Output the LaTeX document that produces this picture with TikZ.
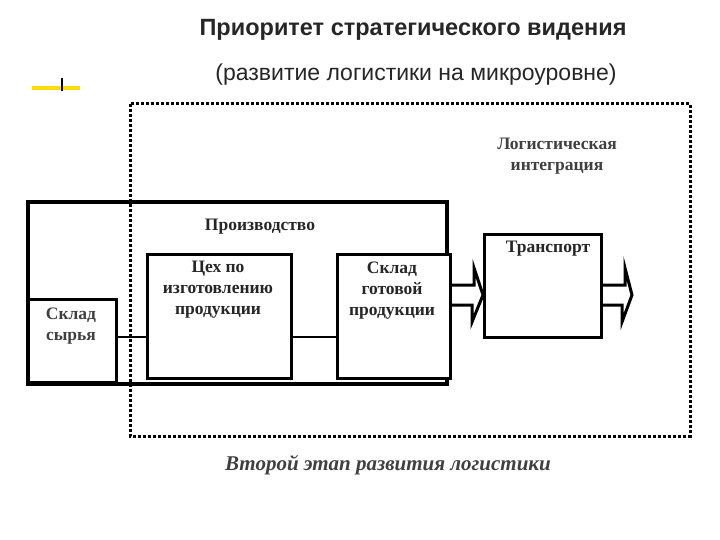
\documentclass[tikz,border=0pt]{standalone}
\usepackage{fontspec}
\setmainfont{Liberation Serif}
\newfontfamily\titlefont{Liberation Sans}
\begin{document}
\begin{tikzpicture}[x=1pt,y=-1pt,
  box/.style={draw,line width=3pt,fill=white},
  lbl/.style={font=\bfseries\fontsize{17.5}{21}\selectfont,align=center,text=black!85},
  conn/.style={line width=2.5pt}]
\useasboundingbox (0,0) rectangle (720,540);
\node[font=\titlefont\bfseries\fontsize{23.5}{26}\selectfont,text=black!85] (t1) at (413,30) {Приоритет стратегического видения};
\node[font=\titlefont\fontsize{23}{26}\selectfont,text=black!85] (t2) at (416,75) {(развитие логистики на микроуровне)};
\fill[yellow!80!orange] (32,86) rectangle (80,90);
\fill[black] (61,78) rectangle (63,91);
\draw[line width=3pt,dotted] (130,104) rectangle (690,436);
\node[lbl,text=black!75] (li) at (557,156) {Логистическая\\интеграция};
\draw[line width=3.5pt] (28,202) rectangle (447,384);
\node[lbl] (pr) at (260,227) {Производство};
\node[box,minimum width=88,minimum height=83,anchor=north west] (ss) at (27,298) {};
\node[lbl,text=black!75] at (71,326) {Склад\\сырья};
\node[box,minimum width=144,minimum height=124,anchor=north west] (ceh) at (146,253) {};
\node[lbl,anchor=north] at (218,258) {Цех по\\изготовлению\\продукции};
\node[box,minimum width=113,minimum height=124,anchor=north west] (sg) at (336,253) {};
\node[lbl,anchor=north] at (392,258) {Склад\\готовой\\продукции};
\node[box,minimum width=117,minimum height=103,anchor=north west] (tr) at (483,233) {};
\node[lbl,anchor=north] at (548,238) {Транспорт};
\draw[conn] (ss.east |- 0,337) -- (ceh.west |- 0,337);
\draw[conn] (ceh.east |- 0,337) -- (sg.west |- 0,337);
\coordinate (a1) at (sg.east |- 0,295);
\coordinate (a2) at (tr.west |- 0,295);
\coordinate (b1) at (tr.east |- 0,295);
\coordinate (b2) at (632,295);
\draw[line width=3pt,fill=white,line join=miter] ([shift={(0,-10)}]a1) -- ++(22,0) -- ++(0,-17) -- (a2) -- ([shift={(-11,27)}]a2) -- ++(0,-17) -- ([shift={(0,10)}]a1);
\draw[line width=3pt,fill=white,line join=miter] ([shift={(0,-10)}]b1) -- ++(22,0) -- ++(0,-17) -- (b2) -- ([shift={(-10,27)}]b2) -- ++(0,-17) -- ([shift={(0,10)}]b1);
\node[font=\bfseries\itshape\fontsize{21}{22}\selectfont,text=black!75] (cap) at (388,465) {Второй этап развития логистики};
\end{tikzpicture}
\end{document}
